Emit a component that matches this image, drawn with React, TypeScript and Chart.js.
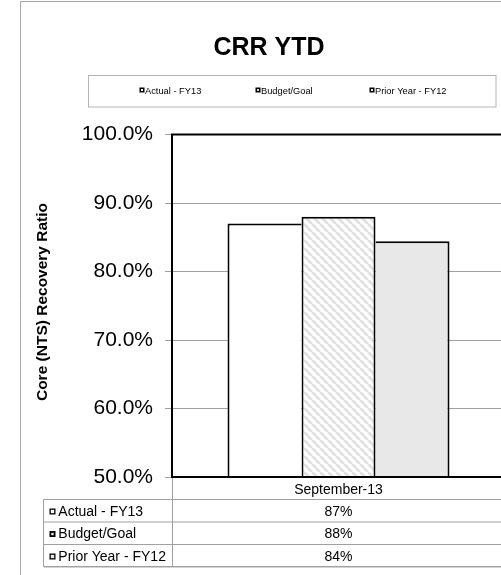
import { useEffect, useRef } from 'react';
import { Chart, registerables } from 'chart.js';

Chart.register(...registerables);

// Core (NTS) recovery ratio, year to date
const categories = ['September-13'];
const seriesNames = ['Actual - FY13', 'Budget/Goal', 'Prior Year - FY12'];
const actualFY13 = [0.87];
const budgetGoal = [0.88];
const priorYearFY12 = [0.844];
const yMin = 0.5;
const yMax = 1.0;
const yStep = 0.1;
const chartTitle = 'CRR YTD';
const yAxisTitle = 'Core (NTS) Recovery Ratio';

const FONT = '"Liberation Sans", Arial, Helvetica, sans-serif';
const CANVAS_W = 530;
const CANVAS_H = 600;

function makeHatch(): CanvasPattern | string {
  const tile = document.createElement('canvas');
  tile.width = 8;
  tile.height = 8;
  const c = tile.getContext('2d');
  if (!c) return '#f2f2f2';
  c.fillStyle = '#ffffff';
  c.fillRect(0, 0, 8, 8);
  c.strokeStyle = '#e2e2e2';
  c.lineWidth = 3;
  for (const k of [-8, 0, 8]) {
    c.beginPath();
    c.moveTo(k, 0);
    c.lineTo(k + 8, 8);
    c.stroke();
  }
  return c.createPattern(tile, 'repeat') || '#f2f2f2';
}

const pct = (v: number) => `${Math.round(v * 100)}%`;

const decorPlugin = {
  id: 'decor',
  afterDatasetsDraw(chart: any) {
    const { ctx, chartArea: a } = chart;
    ctx.save();
    ctx.strokeStyle = '#000000';
    ctx.lineWidth = 2;
    ctx.beginPath();
    ctx.moveTo(a.left, a.top);
    ctx.lineTo(CANVAS_W, a.top);
    ctx.moveTo(a.left, a.top - 1);
    ctx.lineTo(a.left, a.bottom + 1);
    ctx.moveTo(a.left - 1, a.bottom);
    ctx.lineTo(CANVAS_W, a.bottom);
    ctx.stroke();
    ctx.restore();
  },
  afterDraw(chart: any) {
    const { ctx, chartArea: a } = chart;
    const xs = chart.scales.x;
    const fills = chart.data.datasets.map((d: any) => d.backgroundColor);

    ctx.save();
    // outer frame
    ctx.strokeStyle = '#a6a6a6';
    ctx.lineWidth = 1;
    ctx.beginPath();
    ctx.moveTo(20.5, CANVAS_H);
    ctx.lineTo(20.5, 1.5);
    ctx.lineTo(CANVAS_W, 1.5);
    ctx.stroke();

    // title
    ctx.fillStyle = '#000000';
    ctx.font = `bold 25px ${FONT}`;
    ctx.textAlign = 'center';
    ctx.textBaseline = 'alphabetic';
    ctx.fillText(chartTitle, 269, 54.5);

    // legend box
    ctx.strokeStyle = '#b4b4b4';
    ctx.strokeRect(88.5, 75.5, 407.5, 31.5);
    const legendX = [139.5, 255.5, 369.5];
    ctx.font = `9.3px ${FONT}`;
    ctx.textAlign = 'left';
    chart.data.datasets.forEach((d: any, i: number) => {
      ctx.fillStyle = '#000000';
      ctx.fillRect(legendX[i], 87.5, 5, 5);
      ctx.fillStyle = i === 0 ? '#ffffff' : fills[i];
      ctx.fillRect(legendX[i] + 1.5, 89, 2, 2);
      ctx.fillStyle = '#000000';
      ctx.fillText(d.label, legendX[i] + 5.5, 94.3);
    });

    // y axis title
    ctx.save();
    ctx.translate(46.5, 302);
    ctx.rotate(-Math.PI / 2);
    ctx.font = `bold 15.5px ${FONT}`;
    ctx.textAlign = 'center';
    ctx.fillText(yAxisTitle, 0, 0);
    ctx.restore();

    // data table
    const rowTops = [a.bottom, 499.5, 522, 544.5];
    const tableBottom = 566.5;
    ctx.strokeStyle = '#a0a0a0';
    ctx.lineWidth = 1;
    ctx.beginPath();
    for (const y of rowTops.slice(1)) {
      ctx.moveTo(43.5, y);
      ctx.lineTo(CANVAS_W, y);
    }
    ctx.moveTo(43.5, tableBottom);
    ctx.lineTo(CANVAS_W, tableBottom);
    ctx.moveTo(43.5, rowTops[1]);
    ctx.lineTo(43.5, tableBottom);
    ctx.moveTo(a.left + 0.5, a.bottom + 1);
    ctx.lineTo(a.left + 0.5, tableBottom);
    ctx.stroke();
    ctx.strokeStyle = '#d4d4d4';
    ctx.beginPath();
    ctx.moveTo(43.5, tableBottom + 1);
    ctx.lineTo(CANVAS_W, tableBottom + 1);
    ctx.stroke();

    ctx.font = `14px ${FONT}`;
    ctx.fillStyle = '#000000';
    categories.forEach((cat, ci) => {
      ctx.textAlign = 'center';
      ctx.fillText(cat, xs.getPixelForValue(ci), 493.5);
    });
    chart.data.datasets.forEach((d: any, i: number) => {
      const top = rowTops[i + 1];
      // key
      ctx.fillStyle = '#000000';
      ctx.fillRect(49.5, top + 9, 6, 6);
      ctx.fillStyle = fills[i];
      const inset = i === 1 ? 1.8 : 1.3;
      ctx.fillRect(49.5 + inset, top + 9 + inset, 6 - 2 * inset, 6 - 2 * inset);
      ctx.fillStyle = '#000000';
      ctx.textAlign = 'left';
      ctx.fillText(d.label, 58.3, top + 16.3);
      ctx.textAlign = 'center';
      d.data.forEach((v: number, ci: number) => {
        ctx.fillText(pct(v), xs.getPixelForValue(ci), top + 16.3);
      });
    });
    ctx.restore();
  },
};

export default function App() {
  const canvasRef = useRef<HTMLCanvasElement | null>(null);

  useEffect(() => {
    const canvas = canvasRef.current;
    if (!canvas) return;
    const hatch = makeHatch();
    const chart = new Chart(canvas, {
      type: 'bar',
      data: {
        labels: categories,
        datasets: [
          {
            label: seriesNames[0],
            data: actualFY13,
            backgroundColor: '#ffffff',
            borderColor: '#000000',
            borderWidth: { top: 2, left: 2, right: 0, bottom: 0 },
          },
          {
            label: seriesNames[1],
            data: budgetGoal,
            backgroundColor: hatch as any,
            borderColor: '#000000',
            borderWidth: { top: 2, left: 2, right: 2, bottom: 0 },
          },
          {
            label: seriesNames[2],
            data: priorYearFY12,
            backgroundColor: '#e8e8e8',
            borderColor: '#000000',
            borderWidth: { top: 2, left: 0, right: 2, bottom: 0 },
          },
        ],
      },
      options: {
        responsive: false,
        devicePixelRatio: 1,
        animation: false,
        layout: { padding: { top: 134.5, right: 25, bottom: 0, left: 0 } },
        datasets: {
          bar: { categoryPercentage: 2 / 3, barPercentage: 1 },
        },
        plugins: {
          legend: { display: false },
          title: { display: false },
          tooltip: { enabled: false },
        },
        scales: {
          x: {
            grid: { display: false },
            border: { display: false },
            ticks: { display: false },
            afterFit: (s: any) => {
              s.height = 123;
            },
          },
          y: {
            min: yMin,
            max: yMax,
            border: { display: false },
            grid: { color: '#a0a0a0', lineWidth: 1, tickLength: 7 },
            ticks: {
              stepSize: yStep,
              padding: 12,
              color: '#000000',
              font: { family: FONT, size: 21 },
              callback: (v: any) => `${(Number(v) * 100).toFixed(1)}%`,
            },
            afterFit: (s: any) => {
              s.width = 172;
            },
          },
        },
      },
      plugins: [decorPlugin],
    });
    return () => chart.destroy();
  }, []);

  return (
    <div
      style={{
        position: 'fixed',
        left: 0,
        top: 0,
        width: 501,
        height: 575,
        overflow: 'hidden',
        background: '#ffffff',
      }}
    >
      <canvas
        ref={canvasRef}
        width={CANVAS_W}
        height={CANVAS_H}
        style={{ display: 'block', width: CANVAS_W, height: CANVAS_H }}
      />
    </div>
  );
}
